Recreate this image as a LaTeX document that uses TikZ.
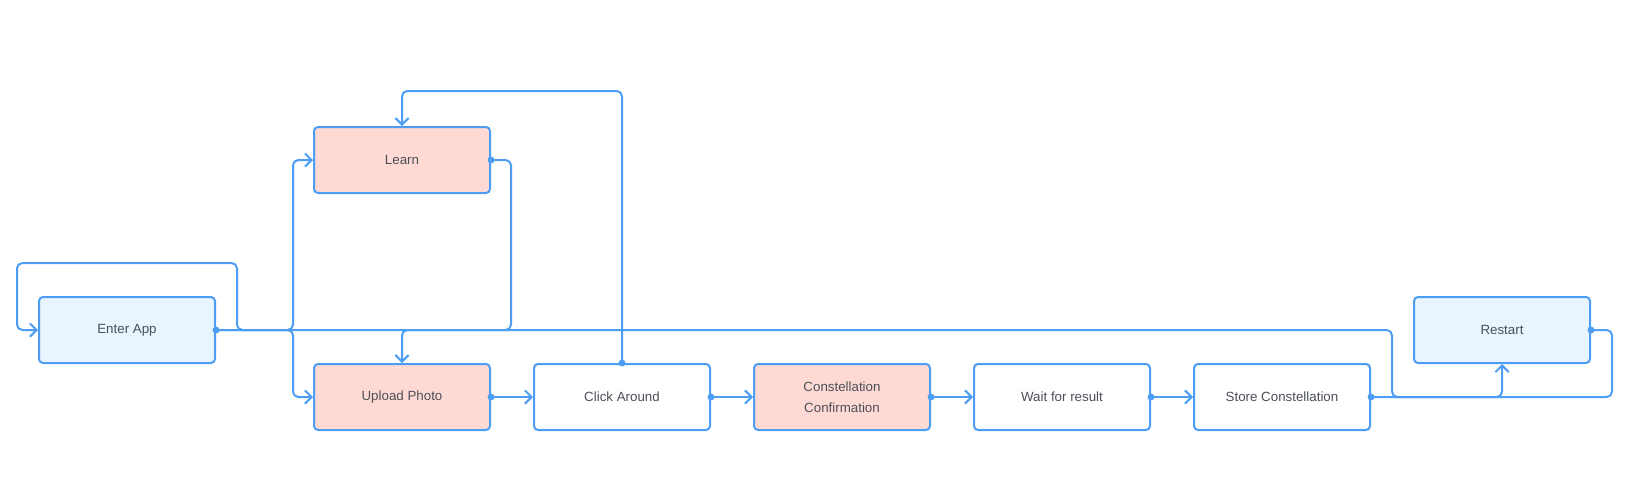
\documentclass[tikz,border=0pt]{standalone}
\usepackage{fontspec}
\setmainfont{Liberation Sans}
\usetikzlibrary{arrows.meta}
\definecolor{linec}{HTML}{4D9DF5}
\definecolor{bluef}{HTML}{E8F4FE}
\definecolor{pinkf}{HTML}{FFDAD5}
\definecolor{txt}{HTML}{4B4F58}
\tikzset{
  box/.style={draw=linec, line width=1.5pt, rounded corners=3pt, minimum width=132pt, minimum height=49.5pt, align=center, text=txt, font=\fontsize{10}{15.5}\selectfont, inner sep=0pt},
  bbox/.style={box, fill=bluef},
  pbox/.style={box, fill=pinkf},
  wbox/.style={box, fill=white},
  conn/.style={draw=linec, line width=1.5pt, rounded corners=4pt, -{Straight Barb[length=5pt,width=10pt,line width=1.5pt]}},
}
\begin{document}
\begin{tikzpicture}[x=0.75pt, y=-0.75pt]
\useasboundingbox (0,0) rectangle (1628,490);
\node[bbox] (E) at (127,330) {Enter App};
\node[pbox] (L) at (402,160) {Learn};
\node[pbox] (U) at (402,397) {Upload Photo};
\node[wbox] (C) at (622,397) {Click Around};
\node[pbox] (CC) at (842,397) {Constellation\\Confirmation};
\node[wbox] (W) at (1062,397) {Wait for result};
\node[wbox] (S) at (1282,397) {Store Constellation};
\node[bbox] (R) at (1502,330) {Restart};

\draw[conn] (E.east) -| (293,160) -- (L.west);
\draw[conn] (E.east) -| (293,397) -- (U.west);
\draw[conn] (L.east) -| (511,330) -| (U.north);
\draw[conn] (C.north) |- (402,91) -- (L.north);
\draw[conn] (U.east) -- (C.west);
\draw[conn] (C.east) -- (CC.west);
\draw[conn] (CC.east) -- (W.west);
\draw[conn] (W.east) -- (S.west);
\draw[conn] (S.east) -| (R.south);
\draw[conn] (R.east) -| (1612,397) -| (1392,330) -| (237,263) -| (17,330) -- (E.west);

\foreach \p in {E.east, L.east, C.north, U.east, C.east, CC.east, W.east, S.east, R.east}
  \fill[linec] (\p) circle (2.6pt);
\end{tikzpicture}
\end{document}
